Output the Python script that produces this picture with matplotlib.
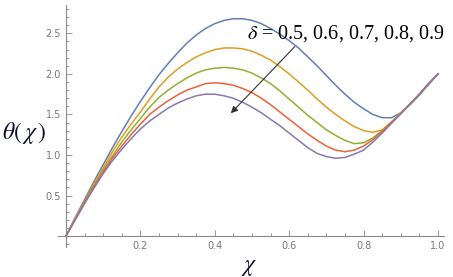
import numpy as np
import matplotlib
matplotlib.use("Agg")
import matplotlib.pyplot as plt
from matplotlib.ticker import MultipleLocator

plt.rcParams['mathtext.fontset'] = 'stix'

# valores (passo 0.025 em chi)
chi = np.linspace(0, 1, 41)

theta_05 = [0, 0.23, 0.45, 0.67, 0.88, 1.09, 1.29, 1.48, 1.66, 1.83, 1.99,
            2.13, 2.26, 2.38, 2.48, 2.56, 2.62, 2.66, 2.68, 2.68, 2.66,
            2.62, 2.56, 2.49, 2.41, 2.32, 2.21, 2.10, 1.98, 1.86, 1.75,
            1.65, 1.57, 1.50, 1.46, 1.46, 1.52, 1.62, 1.74, 1.87, 2.00]
theta_06 = [0, 0.22, 0.43, 0.64, 0.84, 1.04, 1.22, 1.38, 1.53, 1.69, 1.84,
            1.96, 2.06, 2.14, 2.21, 2.26, 2.30, 2.32, 2.32, 2.31, 2.28,
            2.23, 2.17, 2.09, 2.00, 1.90, 1.80, 1.69, 1.59, 1.50, 1.42,
            1.35, 1.30, 1.28, 1.31, 1.41, 1.52, 1.63, 1.75, 1.88, 2.00]
theta_07 = [0, 0.21, 0.42, 0.62, 0.81, 0.99, 1.16, 1.31, 1.45, 1.59, 1.71,
            1.80, 1.88, 1.95, 2.01, 2.05, 2.07, 2.08, 2.07, 2.05, 2.01,
            1.95, 1.88, 1.79, 1.69, 1.59, 1.49, 1.40, 1.31, 1.24, 1.18,
            1.14, 1.15, 1.21, 1.30, 1.40, 1.51, 1.63, 1.75, 1.88, 2.00]
theta_08 = [0, 0.21, 0.41, 0.61, 0.79, 0.96, 1.11, 1.25, 1.38, 1.50, 1.59,
            1.67, 1.74, 1.80, 1.84, 1.88, 1.89, 1.88, 1.86, 1.82, 1.77,
            1.70, 1.62, 1.53, 1.44, 1.35, 1.26, 1.18, 1.11, 1.06, 1.04,
            1.06, 1.11, 1.19, 1.29, 1.40, 1.51, 1.63, 1.75, 1.88, 2.00]
theta_09 = [0, 0.20, 0.40, 0.59, 0.77, 0.93, 1.07, 1.20, 1.32, 1.42, 1.50,
            1.58, 1.64, 1.69, 1.73, 1.75, 1.75, 1.73, 1.70, 1.65, 1.59,
            1.52, 1.44, 1.36, 1.27, 1.18, 1.09, 1.02, 0.98, 0.96, 0.97,
            1.01, 1.06, 1.16, 1.27, 1.39, 1.51, 1.63, 1.75, 1.88, 2.00]

series = [theta_05, theta_06, theta_07, theta_08, theta_09]
colors = ['#5E81B5', '#E19C24', '#8FB032', '#EB6235', '#8778B3']

fig = plt.figure(figsize=(4.53, 2.77), dpi=100)
ax = fig.add_axes([0.128, 0.108, 0.852, 0.874])

for y, c in zip(series, colors):
    ax.plot(chi, y, color=c, lw=1.1)

ax.set_xlim(-0.0215, 1.016)
ax.set_ylim(-0.136, 2.85)

# eixos estilo Mathematica
for s in ['top', 'right']:
    ax.spines[s].set_visible(False)
ax.spines['left'].set_position(('data', 0))
ax.spines['bottom'].set_position(('data', 0))
for s in ['left', 'bottom']:
    ax.spines[s].set_color('#888888')
    ax.spines[s].set_linewidth(0.8)

ax.xaxis.set_major_locator(MultipleLocator(0.2))
ax.xaxis.set_minor_locator(MultipleLocator(0.05))
ax.yaxis.set_major_locator(MultipleLocator(0.5))
ax.yaxis.set_minor_locator(MultipleLocator(0.1))
ax.tick_params(which='both', direction='in', color='#888888', labelsize=7,
               labelcolor='#777777', width=0.6)
ax.tick_params(which='major', length=4)
ax.tick_params(which='minor', length=2)
ax.set_xticks([0.2, 0.4, 0.6, 0.8, 1.0])
ax.set_xticklabels(['0.2', '0.4', '0.6', '0.8', '1.0'])
ax.set_yticks([0.5, 1.0, 1.5, 2.0, 2.5])
ax.set_yticklabels(['0.5', '1.0', '1.5', '2.0', '2.5'])

fig.text(0.004, 0.52, r'$\theta(\,\chi\,)$', fontsize=17, color='#101030',
         ha='left', va='center')
fig.text(0.55, 0.04, r'$\chi$', fontsize=17, color='#101030',
         ha='center', va='center')

ax.text(0.487, 2.5, r'$\delta$ = 0.5, 0.6, 0.7, 0.8, 0.9', fontsize=14.5,
        family='Liberation Serif', color='black', ha='left', va='center')
ax.annotate('', xy=(0.438, 1.49), xytext=(0.62, 2.36),
            arrowprops=dict(arrowstyle='-|>', color='#333333', lw=0.8,
                            mutation_scale=10))

fig.savefig('out.png', dpi=100)
